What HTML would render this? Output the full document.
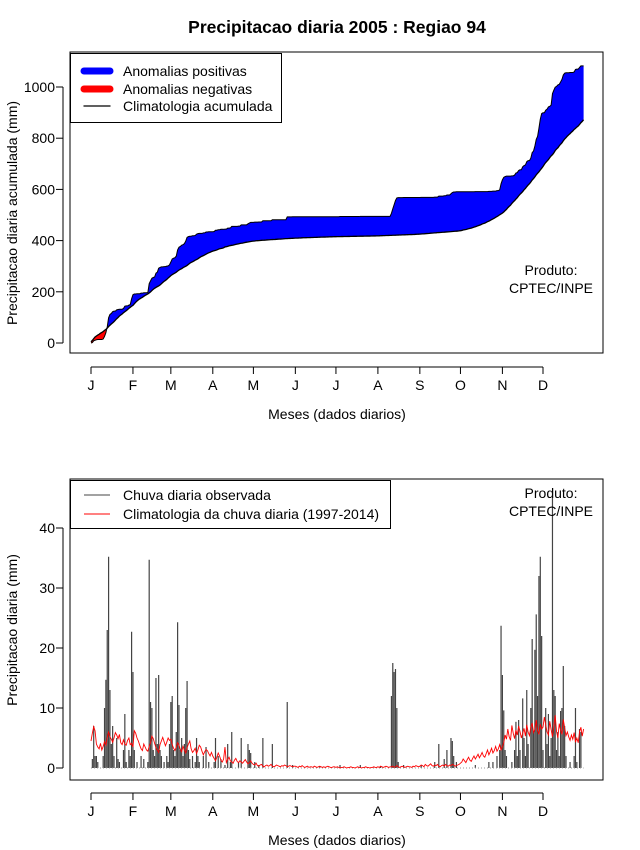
<!DOCTYPE html>
<html><head><meta charset="utf-8"><style>
body{margin:0;background:#fff;}
svg{display:block;font-family:"Liberation Sans",Arial,sans-serif;}
</style></head><body>
<svg id="svg" width="640" height="850" xmlns="http://www.w3.org/2000/svg">
<defs id="defs">
<clipPath id="clipTop"><rect x="70" y="52" width="533" height="301"/></clipPath>
<clipPath id="clipBot"><rect x="70" y="479" width="533" height="301"/></clipPath>
</defs>
<text x="337" y="33" text-anchor="middle" font-weight="bold" font-size="17.5">Precipitacao diaria 2005 : Regiao 94</text>
<g id="topChart"></g>
<g id="botChart"></g>
</svg>
<script>
const monthLabels=["J","F","M","A","M","J","J","A","S","O","N","D"];
const monthStartDays=[1,32,60,91,121,152,182,213,244,274,305,335];
const topTicks=[0,200,400,600,800,1000];
const botTicks=[0,10,20,30,40];
// observed daily rain events [day, mm]; other days are zero
const rainEvents=[[2,1.5],[3,7],[4,2],[5,2],[6,1],[10,2],[11,10],[12,14.7],[13,23],[14,35.2],[15,13],[16,4],[17,7],[18,2],[20,5],[21,1.5],[22,1],[25,3],[26,9],[27,1],[29,3],[30,2],[31,22.7],
[32,16],[33,3],[35,1],[38,2],[40,1.5],[43,1],[44,34.7],[45,11],[46,10],[47,3],[48,2],[49,15],[50,4],[51,15.5],[52,3],[53,2],[55,1],[57,2],[58,1],
[59,4],[60,11],[61,12],[62,3],[63,2],[64,6],[65,24.3],[66,10.5],[67,3],[68,5],[69,2],[70,4],[71,10],[72,14.5],[73,3],[74,1.5],[76,2],[78,1],[79,5],[80,2],[81,1],[84,2],[86,3.5],[88,1],
[92,1],[93,5],[95,2],[97,1.5],[100,0.5],[102,4],[104,1],[105,6],[110,1],[112,5],[117,4],[118,3],[119,2.5],[122,1],[125,0.5],[128,5],[135,4],[146,11],[150,0.5],[170,0.3],[185,0.5],[200,0.5],[215,0.3],
[223,12],[224,17.5],[225,16],[226,16.5],[227,10],[228,1],[232,0.5],[245,0.5],[255,1],[258,4],[262,1.5],[264,3],[267,5],[268,4.5],[269,2],[271,1],[285,0.5],[295,1],
[298,1],[301,2],[303,3],[304,23.7],[305,15.5],[306,9.6],[307,3],[308,2],[312,1],[314,3],[315,7.7],[316,2],[317,8],[318,3],[320,11.6],[321,5],[322,2],[323,13],[324,4],[326,10],[327,21.5],[328,6],[329,19.7],[330,25.6],[331,12],[332,32],[333,35.2],[334,22],[335,3],[337,10],[338,4],[339,9],[340,2],[341,5],[342,45],[343,13],[344,12],[345,3],[346,6],[347,2],[348,9.5],[349,10],[350,17],[351,7],[352,2],[355,1],[358,2],[359,10],[360,1],[362,6.5],[363,6]];
// daily climatology (mm)
const climJan=[4.5,5.8,6.9,6.2,4.0,3.5,3.2,4.1,3.0,3.6,4.4,3.8,5.1,6.0,5.2,4.8,4.3,5.0,5.9,5.5,4.9,5.6,4.2,3.9,4.7,4.0,3.8,4.6,5.0,3.9,4.1];
const climFeb=[3.5,6.2,5.8,5.0,4.5,3.8,3.2,2.9,4.0,3.5,3.0,2.8,3.6,4.2,5.3,4.9,4.1,3.4,3.0,2.6,3.9,4.5,5.1,4.4,3.7,4.3,5.0,4.6];
const climMar=[4.8,3.9,3.3,2.9,3.5,4.2,3.8,3.1,2.7,3.6,3.0,2.5,3.4,4.0,4.5,3.2,2.6,2.9,3.3,2.4,3.0,3.8,3.5,2.8,2.2,2.7,3.1,2.9,2.4,2.0,2.6];
const climApr=[2.0,1.6,1.2,1.8,2.5,2.0,1.3,1.0,1.5,3.5,0.9,1.4,1.8,1.2,1.0,0.8,1.3,1.6,1.1,0.9,1.2,1.0,0.8,1.1,1.4,1.0,0.7,0.9,1.2,0.8];
const climMay=[0.6,0.5,0.8,0.4,0.3,0.5,0.6,0.3,0.2,0.4,0.5,0.3,0.4,0.6,0.3,0.2,0.3,0.5,0.4,0.3,0.2,0.4,0.3,0.5,0.4,0.2,0.3,0.4,0.3,0.2,0.3];
const climJun=[0.3,0.2,0.1,0.3,0.2,0.4,0.2,0.1,0.2,0.3,0.1,0.2,0.2,0.1,0.3,0.2,0.1,0.2,0.3,0.2,0.1,0.2,0.1,0.2,0.3,0.2,0.1,0.1,0.2,0.2];
const climJul=[0.1,0.2,0.1,0.0,0.1,0.1,0.2,0.1,0.0,0.1,0.1,0.2,0.1,0.1,0.0,0.1,0.2,0.1,0.1,0.0,0.1,0.1,0.2,0.1,0.1,0.0,0.1,0.1,0.2,0.1,0.1];
const climAug=[0.2,0.1,0.3,0.2,0.1,0.2,0.3,0.2,0.1,0.2,0.2,0.3,0.1,0.2,0.4,0.2,0.1,0.2,0.3,0.2,0.1,0.2,0.3,0.2,0.2,0.1,0.3,0.2,0.4,0.3,0.2];
const climSep=[0.3,0.5,0.4,0.2,0.6,0.4,0.3,0.5,0.7,0.4,0.3,0.5,0.4,0.6,0.3,0.2,0.4,0.5,0.3,0.6,0.4,0.3,0.5,0.4,0.6,0.5,0.3,0.4,0.5,0.6];
const climOct=[0.8,1.0,1.5,1.2,0.9,1.4,1.8,1.3,1.1,1.6,2.0,1.5,1.9,2.3,1.7,2.1,2.6,2.0,1.8,2.4,3.0,2.2,2.7,3.3,2.5,2.9,3.6,2.8,3.2,3.9,3.0];
const climNov=[3.5,4.2,5.5,4.8,6.5,5.2,4.6,7.1,5.8,4.9,6.3,5.5,7.0,6.1,5.0,5.8,6.6,5.3,7.2,6.0,5.4,6.8,7.5,5.9,6.4,8.0,6.2,5.6,7.3,6.5];
const climDec=[6.8,8.5,7.2,6.0,5.5,7.8,6.4,5.2,6.9,8.8,6.1,5.0,7.4,6.3,5.6,8.1,6.7,5.4,6.0,5.2,4.6,5.5,4.8,5.9,4.3,5.0,4.2,6.0,6.8,5.3,6.5];

const NS="http://www.w3.org/2000/svg";
const FS=14;
function mk(parent,tag,attrs){const e=document.createElementNS(NS,tag);for(const k in attrs)e.setAttribute(k,attrs[k]);parent.appendChild(e);return e;}
const clim=[].concat(climJan,climFeb,climMar,climApr,climMay,climJun,climJul,climAug,climSep,climOct,climNov,climDec);
const N=clim.length;
const rain=new Array(N).fill(0);
rainEvents.forEach(([d,v])=>{rain[d-1]=v;});
const cumObs=[],cumClim=[];let accA=0,accB=0;
for(let i=0;i<N;i++){accA+=rain[i];accB+=clim[i];cumObs.push(accA);cumClim.push(accB);}
const xs=d=>91+(d-1)*(543-91)/334;
const yTop=v=>343-v*0.256;
const yBot=v=>768-v*6;

function axes(g,boxY,axisY,yTicksArr,yf,ylab,ylabY){
  const box=mk(g,'rect',{x:70,y:boxY,width:533,height:301,fill:'none',stroke:'#000','stroke-width':1});
  
  
  const xa=mk(g,'line',{x1:xs(1),x2:xs(335),y1:axisY,y2:axisY,stroke:'#000'});
  
  
  monthStartDays.forEach((d,i)=>{
    mk(g,'line',{x1:xs(d),x2:xs(d),y1:axisY,y2:axisY+7,stroke:'#000'});
    const t=mk(g,'text',{x:xs(d),y:axisY+23,'text-anchor':'middle','font-size':FS});t.textContent=monthLabels[i];
    
    
  });
  const ya=mk(g,'line',{x1:63,x2:63,y1:yf(yTicksArr[0]),y2:yf(yTicksArr[yTicksArr.length-1]),stroke:'#000'});
  
  
  yTicksArr.forEach(v=>{
    mk(g,'line',{x1:56,x2:63,y1:yf(v),y2:yf(v),stroke:'#000'});
    const t=mk(g,'text',{x:55,y:yf(v)+5,'text-anchor':'end','font-size':FS});t.textContent=v;
    
    
  });
  const xl=mk(g,'text',{x:337,y:axisY+52,'text-anchor':'middle','font-size':FS});xl.textContent='Meses (dados diarios)';
  
  
  const yl=mk(g,'text',{x:0,y:0,'text-anchor':'middle','font-size':FS,transform:`translate(17,${ylabY}) rotate(-90)`});yl.textContent=ylab;
  
  
}
function produto(g,y){
  const t1=mk(g,'text',{x:551,y:y,'text-anchor':'middle','font-size':FS});t1.textContent='Produto:';
  
  
  const t2=mk(g,'text',{x:551,y:y+18,'text-anchor':'middle','font-size':FS});t2.textContent='CPTEC/INPE';
  
  
}

// TOP
const topG=document.getElementById('topChart');
const defs=document.getElementById('defs');
axes(topG,52,367,topTicks,yTop,'Precipitacao diaria acumulada (mm)',213);
const ptsO=cumObs.map((v,i)=>xs(i+1)+','+yTop(v));
const ptsC=cumClim.map((v,i)=>xs(i+1)+','+yTop(v));
const band=ptsO.concat(ptsC.slice().reverse()).join(' ');
const abovePath='M70,52 L'+ptsC.join(' L')+' L603,52 Z';
const belowPath='M70,353 L'+ptsC.join(' L')+' L603,353 Z';
const cA=mk(defs,'clipPath',{id:'cAbove'});mk(cA,'path',{d:abovePath});
const cB=mk(defs,'clipPath',{id:'cBelow'});mk(cB,'path',{d:belowPath});
const pos=mk(topG,'polygon',{points:band,fill:'#0000ff','clip-path':'url(#cAbove)'});


const neg=mk(topG,'polygon',{points:band,fill:'#ff0000','clip-path':'url(#cBelow)'});


const lo=mk(topG,'polyline',{points:ptsO.join(' '),fill:'none',stroke:'#000','stroke-width':1});


const lc=mk(topG,'polyline',{points:ptsC.join(' '),fill:'none',stroke:'#000','stroke-width':1.3});


const lg=mk(topG,'g',{});


mk(lg,'rect',{x:70.5,y:53.5,width:211,height:69,fill:'#fff',stroke:'#000'});
[['#0000ff',7,'Anomalias positivas',71],['#ff0000',7,'Anomalias negativas',89],['#000',1.3,'Climatologia acumulada',106]].forEach(([c,w,l,y])=>{
  const e=mk(lg,'g',{});
  
  
  mk(e,'line',{x1:84,x2:110,y1:y,y2:y,stroke:c,'stroke-width':w,'stroke-linecap':'round'});
  const t=mk(e,'text',{x:123,y:y+5,'font-size':FS});t.textContent=l;
});
produto(topG,275);

// BOTTOM
const botG=document.getElementById('botChart');
axes(botG,479,793,botTicks,yBot,'Precipitacao diaria (mm)',630);
const bars=mk(botG,'g',{'clip-path':'url(#clipBot)'});


rain.forEach((v,i)=>{ if(v>0){
  const l=mk(bars,'line',{x1:xs(i+1),x2:xs(i+1),y1:yBot(0),y2:yBot(v),stroke:'#444','stroke-width':1.2});
  
  
}});
mk(botG,'line',{x1:xs(1),x2:xs(N),y1:yBot(0),y2:yBot(0),stroke:'#999','stroke-dasharray':'1,2'});
const cl=mk(botG,'polyline',{points:clim.map((v,i)=>xs(i+1)+','+yBot(v)).join(' '),fill:'none',stroke:'#ff0000','stroke-width':0.9});


const lg2=mk(botG,'g',{});


mk(lg2,'rect',{x:70.5,y:480.5,width:320,height:48,fill:'#fff',stroke:'#000'});
[['#444','Chuva diaria observada',495],['#ff0000','Climatologia da chuva diaria (1997-2014)',514]].forEach(([c,l,y])=>{
  const e=mk(lg2,'g',{});
  
  
  mk(e,'line',{x1:84,x2:110,y1:y,y2:y,stroke:c,'stroke-width':1});
  const t=mk(e,'text',{x:123,y:y+5,'font-size':FS});t.textContent=l;
});
produto(botG,498);
</script>
</body></html>
